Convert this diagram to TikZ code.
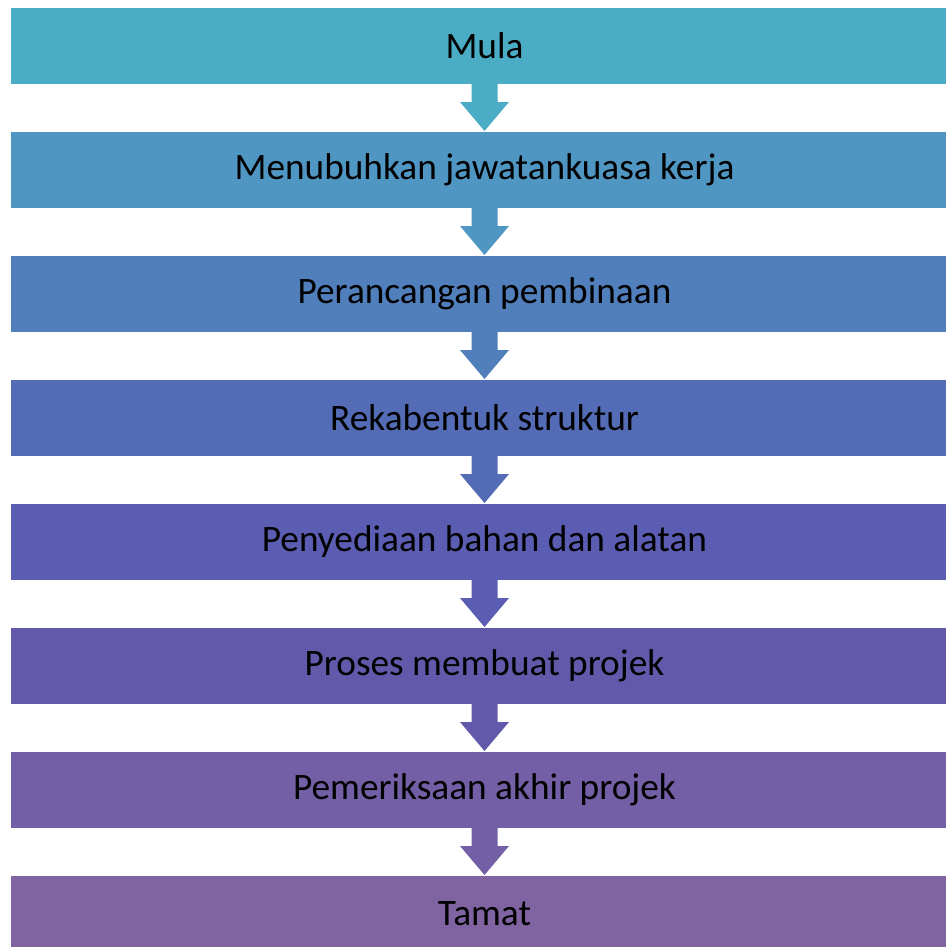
\documentclass[tikz,border=0pt]{standalone}
\usepackage{fontspec}
\setmainfont{Carlito}
\usetikzlibrary{positioning, calc}
\definecolor{shadeA}{HTML}{4BACC6}
\definecolor{shadeB}{HTML}{4F96C3}
\definecolor{shadeC}{HTML}{507FBC}
\definecolor{shadeD}{HTML}{546BB6}
\definecolor{shadeE}{HTML}{5A5DB1}
\definecolor{shadeF}{HTML}{6359AA}
\definecolor{shadeG}{HTML}{735FA6}
\definecolor{shadeH}{HTML}{8064A2}

\begin{document}
\begin{tikzpicture}[x=0.75pt, y=-0.75pt,
  stage/.style={rectangle, minimum width=710pt, minimum height=57pt,
    inner sep=0pt, outer sep=0pt, font=\fontsize{28}{34}\selectfont, text=black},
  node distance=36pt]
  \useasboundingbox (0,0) rectangle (946,947);
  \node[stage, fill=shadeA] (mula) at (484.5,46) {Mula};
  \node[stage, fill=shadeB, below=of mula] (jawatan) {Menubuhkan jawatankuasa kerja};
  \node[stage, fill=shadeC, below=of jawatan] (rancang) {Perancangan pembinaan};
  \node[stage, fill=shadeD, below=of rancang] (reka) {Rekabentuk struktur};
  \node[stage, fill=shadeE, below=of reka] (bahan) {Penyediaan bahan dan alatan};
  \node[stage, fill=shadeF, below=of bahan] (proses) {Proses membuat projek};
  \node[stage, fill=shadeG, below=of proses] (periksa) {Pemeriksaan akhir projek};
  \node[stage, fill=shadeH, below=of periksa] (tamat) {Tamat};
  % block arrows between the stages
  \foreach \a/\b/\c in {mula/jawatan/shadeA, jawatan/rancang/shadeB,
    rancang/reka/shadeC, reka/bahan/shadeD, bahan/proses/shadeE,
    proses/periksa/shadeF, periksa/tamat/shadeG} {
    \fill[\c] ($(\a.south)+(-13,0)$) -- ++(0,18) -- ++(-11.5,0)
      -- ($(\b.north)+(0,-1)$) -- ($(\a.south)+(24.5,18)$) -- ++(-11.5,0)
      -- ($(\a.south)+(13,0)$) -- cycle;
  }
\end{tikzpicture}
\end{document}
